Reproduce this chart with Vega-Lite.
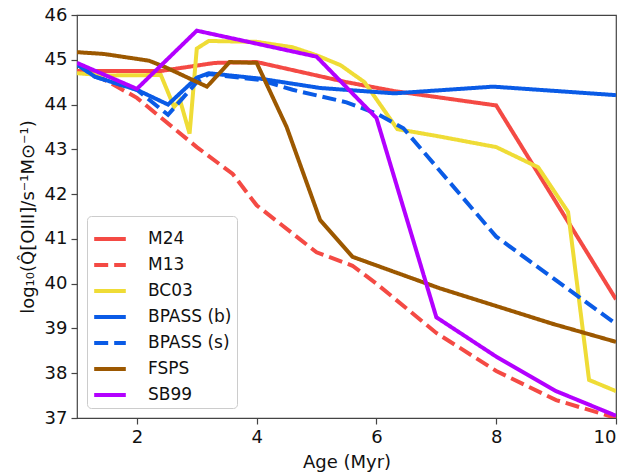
{
  "$schema": "https://vega.github.io/schema/vega-lite/v6.json",
  "width": 539,
  "height": 403,
  "autosize": {"type": "none"},
  "padding": {"left": 77, "top": 15, "right": 16, "bottom": 58},
  "background": "white",
  "config": {
    "font": "DejaVu Sans",
    "view": {"stroke": "#444", "strokeWidth": 1.2},
    "axis": {"grid": false, "domain": false, "tickColor": "#444", "tickSize": 6, "tickWidth": 1.2, "labelFontSize": 18, "titleFontSize": 18, "labelColor": "#111", "titleColor": "#111", "titleFontWeight": "normal", "labelPadding": 4}
  },
  "data": {"values": [
    {"s": "M24", "x": 1, "y": 44.75}, {"s": "M24", "x": 2.4, "y": 44.75}, {"s": "M24", "x": 3.3, "y": 44.93}, {"s": "M24", "x": 4.0, "y": 44.95}, {"s": "M24", "x": 5.5, "y": 44.5}, {"s": "M24", "x": 6.3, "y": 44.3}, {"s": "M24", "x": 8, "y": 43.98}, {"s": "M24", "x": 10, "y": 39.65},
    {"s": "M13", "x": 1, "y": 44.9}, {"s": "M13", "x": 2, "y": 44.15}, {"s": "M13", "x": 3, "y": 43.05}, {"s": "M13", "x": 3.6, "y": 42.45}, {"s": "M13", "x": 4, "y": 41.75}, {"s": "M13", "x": 5, "y": 40.7}, {"s": "M13", "x": 5.6, "y": 40.4}, {"s": "M13", "x": 6, "y": 40.0}, {"s": "M13", "x": 7, "y": 38.9}, {"s": "M13", "x": 8, "y": 38.05}, {"s": "M13", "x": 9, "y": 37.4}, {"s": "M13", "x": 10, "y": 37.0},
    {"s": "BC03", "x": 1, "y": 44.7}, {"s": "BC03", "x": 1.5, "y": 44.65}, {"s": "BC03", "x": 2.4, "y": 44.66}, {"s": "BC03", "x": 2.62, "y": 43.95}, {"s": "BC03", "x": 2.72, "y": 44.1}, {"s": "BC03", "x": 2.88, "y": 43.35}, {"s": "BC03", "x": 3.0, "y": 45.25}, {"s": "BC03", "x": 3.2, "y": 45.42}, {"s": "BC03", "x": 4.0, "y": 45.4}, {"s": "BC03", "x": 4.6, "y": 45.28}, {"s": "BC03", "x": 5.0, "y": 45.1}, {"s": "BC03", "x": 5.4, "y": 44.88}, {"s": "BC03", "x": 5.8, "y": 44.5}, {"s": "BC03", "x": 6.35, "y": 43.45}, {"s": "BC03", "x": 7, "y": 43.3}, {"s": "BC03", "x": 8, "y": 43.05}, {"s": "BC03", "x": 8.7, "y": 42.6}, {"s": "BC03", "x": 9.2, "y": 41.6}, {"s": "BC03", "x": 9.55, "y": 37.85}, {"s": "BC03", "x": 10, "y": 37.6},
    {"s": "BPASS (b)", "x": 1, "y": 44.9}, {"s": "BPASS (b)", "x": 1.3, "y": 44.62}, {"s": "BPASS (b)", "x": 2, "y": 44.33}, {"s": "BPASS (b)", "x": 2.52, "y": 44.0}, {"s": "BPASS (b)", "x": 3.0, "y": 44.6}, {"s": "BPASS (b)", "x": 3.2, "y": 44.7}, {"s": "BPASS (b)", "x": 4.05, "y": 44.58}, {"s": "BPASS (b)", "x": 5.06, "y": 44.37}, {"s": "BPASS (b)", "x": 6.3, "y": 44.25}, {"s": "BPASS (b)", "x": 7.95, "y": 44.4}, {"s": "BPASS (b)", "x": 10, "y": 44.21},
    {"s": "BPASS (s)", "x": 1, "y": 44.9}, {"s": "BPASS (s)", "x": 1.3, "y": 44.62}, {"s": "BPASS (s)", "x": 2, "y": 44.33}, {"s": "BPASS (s)", "x": 2.52, "y": 43.77}, {"s": "BPASS (s)", "x": 3.0, "y": 44.5}, {"s": "BPASS (s)", "x": 3.2, "y": 44.68}, {"s": "BPASS (s)", "x": 4.05, "y": 44.55}, {"s": "BPASS (s)", "x": 4.6, "y": 44.33}, {"s": "BPASS (s)", "x": 5.5, "y": 44.05}, {"s": "BPASS (s)", "x": 6.0, "y": 43.8}, {"s": "BPASS (s)", "x": 6.45, "y": 43.47}, {"s": "BPASS (s)", "x": 8, "y": 41.05}, {"s": "BPASS (s)", "x": 10, "y": 39.1},
    {"s": "FSPS", "x": 1, "y": 45.17}, {"s": "FSPS", "x": 1.45, "y": 45.13}, {"s": "FSPS", "x": 2.2, "y": 44.98}, {"s": "FSPS", "x": 2.45, "y": 44.85}, {"s": "FSPS", "x": 3.17, "y": 44.4}, {"s": "FSPS", "x": 3.55, "y": 44.95}, {"s": "FSPS", "x": 4.0, "y": 44.93}, {"s": "FSPS", "x": 4.5, "y": 43.5}, {"s": "FSPS", "x": 5.06, "y": 41.42}, {"s": "FSPS", "x": 5.6, "y": 40.6}, {"s": "FSPS", "x": 7.05, "y": 39.9}, {"s": "FSPS", "x": 8.95, "y": 39.1}, {"s": "FSPS", "x": 10, "y": 38.7},
    {"s": "SB99", "x": 1, "y": 44.93}, {"s": "SB99", "x": 2, "y": 44.35}, {"s": "SB99", "x": 3, "y": 45.65}, {"s": "SB99", "x": 5, "y": 45.07}, {"s": "SB99", "x": 6, "y": 43.7}, {"s": "SB99", "x": 7, "y": 39.25}, {"s": "SB99", "x": 8, "y": 38.37}, {"s": "SB99", "x": 9, "y": 37.6}, {"s": "SB99", "x": 10, "y": 37.05}
  ]},
  "mark": {"type": "line", "strokeWidth": 4, "strokeCap": "butt", "strokeJoin": "miter", "clip": true},
  "encoding": {
    "x": {"field": "x", "type": "quantitative", "scale": {"domain": [1, 10], "nice": false, "zero": false}, "axis": {"values": [2, 4, 6, 8, 10], "title": "Age (Myr)", "titlePadding": 7}},
    "y": {"field": "y", "type": "quantitative", "scale": {"domain": [37, 46], "nice": false, "zero": false}, "axis": {"values": [37, 38, 39, 40, 41, 42, 43, 44, 45, 46], "title": "log₁₀(Q̂[OIII]/s⁻¹M⊙⁻¹)", "titlePadding": 7}},
    "color": {"field": "s", "type": "nominal", "title": null,
      "scale": {"domain": ["M24", "M13", "BC03", "BPASS (b)", "BPASS (s)", "FSPS", "SB99"], "range": ["#f44a44", "#f44a44", "#efdc36", "#0a5be6", "#0a5be6", "#9c5800", "#b300ff"]},
      "legend": {"orient": "bottom-left", "offset": 10, "symbolType": "stroke", "symbolStrokeWidth": 4, "symbolSize": 1000, "labelFontSize": 17, "labelColor": "#111", "rowPadding": -4, "padding": 5, "fillColor": "white", "strokeColor": "#ccc", "cornerRadius": 4, "labelOffset": 20}},
    "strokeDash": {"field": "s", "type": "nominal", "title": null,
      "scale": {"domain": ["M24", "M13", "BC03", "BPASS (b)", "BPASS (s)", "FSPS", "SB99"], "range": [[1, 0], [14, 6], [1, 0], [1, 0], [14, 6], [1, 0], [1, 0]]}},
    "order": {"field": "x", "type": "quantitative"}
  }
}
